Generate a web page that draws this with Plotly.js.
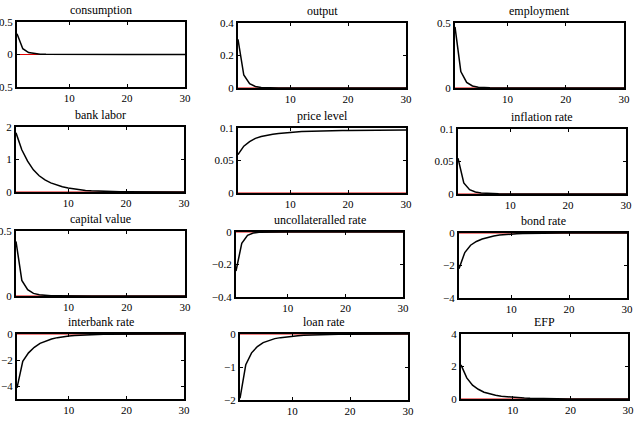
<!DOCTYPE html>
<html>
<head>
<meta charset="utf-8">
<script src="https://cdn.plot.ly/plotly-3.0.1.min.js"></script>
<style>html,body{margin:0;padding:0;background:#fff;}#chart{width:635px;height:422px;}</style>
</head>
<body>
<div id="chart"></div>
<script>
// periods 1..30
const periods = Array.from({length: 30}, (_, i) => i + 1);

const consumption = [0.32, 0.09, 0.03, 0.012, 0.005, 0.002, 0.001, 0.0005, 0, 0, 0, 0, 0, 0, 0, 0, 0, 0, 0, 0, 0, 0, 0, 0, 0, 0, 0, 0, 0, 0];
const output = [0.30, 0.08, 0.026, 0.009, 0.003, 0.001, 0.0004, 0, 0, 0, 0, 0, 0, 0, 0, 0, 0, 0, 0, 0, 0, 0, 0, 0, 0, 0, 0, 0, 0, 0];
const employment = [0.47, 0.127, 0.043, 0.016, 0.006, 0.002, 0.001, 0.0004, 0, 0, 0, 0, 0, 0, 0, 0, 0, 0, 0, 0, 0, 0, 0, 0, 0, 0, 0, 0, 0, 0];
const bankLabor = [1.82, 1.3, 0.95, 0.68, 0.5, 0.37, 0.28, 0.21, 0.16, 0.12, 0.09, 0.065, 0.048, 0.035, 0.026, 0.019, 0.014, 0.01, 0.007, 0.005, 0.004, 0.003, 0.002, 0.0015, 0.001, 0.001, 0, 0, 0, 0];
const priceLevel = [0.059, 0.072, 0.079, 0.084, 0.087, 0.089, 0.0905, 0.0917, 0.0927, 0.0934, 0.094, 0.0945, 0.0949, 0.0952, 0.0955, 0.0957, 0.0959, 0.0961, 0.0962, 0.0963, 0.0964, 0.0965, 0.0966, 0.0966, 0.0967, 0.0967, 0.0968, 0.0968, 0.0968, 0.0969];
const inflationRate = [0.055, 0.017, 0.0066, 0.003, 0.0015, 0.0008, 0.0004, 0.0002, 0, 0, 0, 0, 0, 0, 0, 0, 0, 0, 0, 0, 0, 0, 0, 0, 0, 0, 0, 0, 0, 0];
const capitalValue = [0.42, 0.12, 0.049, 0.02, 0.009, 0.004, 0.002, 0.001, 0, 0, 0, 0, 0, 0, 0, 0, 0, 0, 0, 0, 0, 0, 0, 0, 0, 0, 0, 0, 0, 0];
const uncollRate = [-0.24, -0.07, -0.02, -0.006, -0.002, -0.0008, -0.0003, 0, 0, 0, 0, 0, 0, 0, 0, 0, 0, 0, 0, 0, 0, 0, 0, 0, 0, 0, 0, 0, 0, 0];
const bondRate = [-2.2, -1.2, -0.75, -0.52, -0.37, -0.26, -0.18, -0.13, -0.09, -0.065, -0.045, -0.032, -0.022, -0.015, -0.01, -0.007, -0.005, -0.003, -0.002, -0.001, 0, 0, 0, 0, 0, 0, 0, 0, 0, 0];
const interbankRate = [-4.15, -2.1, -1.45, -1.02, -0.72, -0.52, -0.38, -0.28, -0.2, -0.15, -0.11, -0.08, -0.06, -0.045, -0.033, -0.024, -0.018, -0.013, -0.01, -0.007, -0.005, -0.004, -0.003, -0.002, -0.001, 0, 0, 0, 0, 0];
const loanRate = [-1.95, -0.93, -0.57, -0.38, -0.26, -0.19, -0.14, -0.11, -0.085, -0.065, -0.05, -0.038, -0.029, -0.022, -0.017, -0.013, -0.01, -0.007, -0.005, -0.004, -0.003, -0.002, -0.001, 0, 0, 0, 0, 0, 0, 0];
const efp = [2.1, 1.3, 0.85, 0.6, 0.42, 0.31, 0.23, 0.17, 0.13, 0.1, 0.075, 0.056, 0.042, 0.031, 0.023, 0.017, 0.013, 0.01, 0.007, 0.005, 0.004, 0.003, 0.002, 0.001, 0, 0, 0, 0, 0, 0];

const titles = ["consumption", "output", "employment", "bank labor", "price level", "inflation rate",
  "capital value", "uncollateralled rate", "bond rate", "interbank rate", "loan rate", "EFP"];
const series = [consumption, output, employment, bankLabor, priceLevel, inflationRate,
  capitalValue, uncollRate, bondRate, interbankRate, loanRate, efp];
const yRanges = [[-0.5, 0.5], [0, 0.4], [0, 0.5], [0, 2], [0, 0.1], [0, 0.1],
  [0, 0.5], [-0.4, 0], [-4, 0], [-5, 0], [-2, 0], [0, 4]];
const yTicks = [[-0.5, 0, 0.5], [0, 0.2, 0.4], [0, 0.5], [0, 1, 2], [0, 0.05, 0.1], [0, 0.05, 0.1],
  [0, 0.5], [-0.4, -0.2, 0], [-4, -2, 0], [-4, -2, 0], [-2, -1, 0], [0, 2, 4]];
const xTicks = [10, 20, 30];

// panel boxes in pixels [left, right, top, bottom]
const boxes = [
  [17, 185, 22, 87], [238, 406, 23, 88], [455, 624, 23, 88],
  [16, 184, 127, 192], [238, 406, 128, 193], [458, 626, 129, 194],
  [16, 185, 231, 296], [236, 403, 232, 297], [459, 627, 233, 298],
  [17, 184, 334, 399], [240, 408, 334, 400], [461, 628, 334, 399]
];
const W = 635, H = 422;
const fontFam = "'Liberation Serif', 'Times New Roman', serif";

const data = [];
const layout = {
  width: W, height: H,
  margin: {l: 0, r: 0, t: 0, b: 0},
  paper_bgcolor: "#fff", plot_bgcolor: "#fff",
  showlegend: false,
  font: {family: fontFam, size: 11, color: "#000"},
  annotations: []
};

series.forEach((vals, i) => {
  const n = i + 1;
  const xa = n === 1 ? "x" : "x" + n;
  const ya = n === 1 ? "y" : "y" + n;
  const b = boxes[i];
  // steady-state line
  data.push({x: periods, y: periods.map(() => 0), xaxis: xa, yaxis: ya, type: "scatter", mode: "lines",
    line: {color: "#e00000", width: 1}, hoverinfo: "skip"});
  data.push({x: periods, y: vals, xaxis: xa, yaxis: ya, type: "scatter", mode: "lines",
    line: {color: "#000", width: 1.5}});
  const common = {showline: true, linecolor: "#000", linewidth: 2, mirror: "ticks", ticks: "inside",
    ticklen: 3, tickwidth: 1, tickcolor: "#000", showgrid: false, zeroline: false,
    tickfont: {family: fontFam, size: 11, color: "#000"}};
  layout["xaxis" + (n === 1 ? "" : n)] = Object.assign({}, common, {
    domain: [b[0] / W, b[1] / W], range: [1, 30], tickmode: "array", tickvals: xTicks,
    anchor: ya, ticklabelstandoff: 0
  });
  layout["yaxis" + (n === 1 ? "" : n)] = Object.assign({}, common, {
    domain: [1 - b[3] / H, 1 - b[2] / H], range: yRanges[i], tickmode: "array", tickvals: yTicks[i],
    anchor: xa, ticklabelstandoff: 0
  });
  layout.annotations.push({text: titles[i], xref: "paper", yref: "paper",
    x: (b[0] + b[1]) / 2 / W, y: 1 - (b[2] - 3) / H, xanchor: "center", yanchor: "bottom",
    showarrow: false, font: {family: fontFam, size: 12, color: "#000"}});
});

Plotly.newPlot("chart", data, layout, {displayModeBar: false, staticPlot: true});
</script>
</body>
</html>
